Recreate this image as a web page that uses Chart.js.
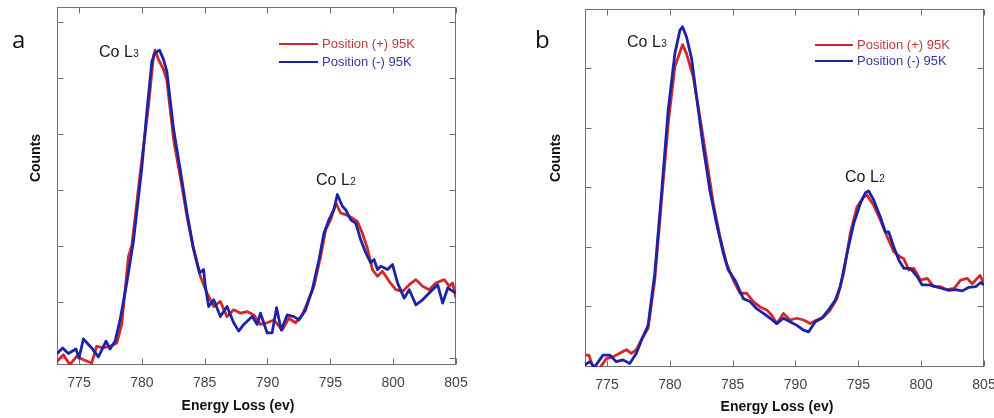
<!DOCTYPE html>
<html>
<head>
<meta charset="utf-8">
<script src="https://cdn.jsdelivr.net/npm/chart.js@4.4.1/dist/chart.umd.min.js"></script>
<style>
  body { margin: 0; background: #fff; width: 994px; height: 418px; overflow: hidden; position: relative; }
  .panel { position: absolute; top: 0; height: 418px; }
  #panelA { left: 0; width: 490px; }
  #panelB { left: 495px; width: 499px; }
</style>
</head>
<body>
<div class="panel" id="panelA"><canvas id="chartA" width="490" height="418"></canvas></div>
<div class="panel" id="panelB"><canvas id="chartB" width="499" height="418"></canvas></div>
<script>
// --- tick labels ---
const energyTicks = [775, 780, 785, 790, 795, 800, 805];
const countTicks = [0, 1, 2, 3, 4, 5, 6];

// --- panel a: Position (+) 95K ---
const aPlusEnergy = [773.27, 773.75, 774.28, 774.81, 775.35, 776.01, 776.41, 776.94, 777.47, 778.01, 778.40, 778.94, 779.20, 779.87, 780.53, 780.93, 781.06, 781.33, 781.73, 781.99, 782.53, 783.19, 783.59, 784.12, 784.65, 785.19, 785.72, 786.25, 786.78, 787.31, 787.85, 788.38, 788.91, 789.44, 789.97, 790.51, 791.17, 791.70, 792.23, 792.77, 793.16, 793.70, 794.23, 794.63, 795.03, 795.43, 795.82, 796.22, 796.76, 797.15, 797.55, 797.95, 798.35, 798.75, 799.15, 799.68, 800.21, 800.74, 801.28, 801.81, 802.34, 802.87, 803.40, 804.07, 804.47, 804.73, 805.0];
const aPlusCounts = [-0.06, 0.06, -0.12, 0.03, -0.03, -0.09, 0.21, 0.18, 0.21, 0.27, 0.60, 1.82, 2.00, 3.30, 4.50, 5.40, 5.50, 5.33, 5.15, 4.97, 3.90, 3.07, 2.53, 1.93, 1.46, 1.16, 0.92, 1.01, 0.74, 0.86, 0.80, 0.83, 0.77, 0.60, 0.63, 0.68, 0.50, 0.71, 0.63, 0.77, 0.98, 1.28, 1.82, 2.29, 2.47, 2.77, 2.59, 2.56, 2.50, 2.44, 2.23, 1.96, 1.58, 1.46, 1.55, 1.37, 1.22, 1.19, 1.31, 1.40, 1.28, 1.22, 1.34, 1.40, 1.28, 1.34, 1.07];

// --- panel a: Position (-) 95K ---
const aMinusEnergy = [773.27, 773.70, 774.15, 774.76, 775.00, 775.35, 776.01, 776.54, 777.15, 777.47, 777.87, 778.27, 778.80, 779.34, 780.00, 780.40, 780.80, 781.06, 781.41, 781.73, 781.99, 782.53, 783.06, 783.59, 784.07, 784.60, 784.92, 785.05, 785.32, 785.72, 786.25, 786.78, 787.31, 787.71, 788.11, 788.78, 789.18, 789.44, 789.97, 790.37, 790.72, 791.09, 791.57, 792.10, 792.50, 793.03, 793.56, 794.10, 794.49, 794.89, 795.29, 795.56, 795.96, 796.22, 796.62, 797.02, 797.42, 797.82, 798.22, 798.48, 798.75, 799.02, 799.55, 799.95, 800.35, 800.88, 801.28, 801.81, 802.34, 802.87, 803.54, 803.94, 804.34, 805.0];
const aMinusCounts = [0.08, 0.18, 0.08, 0.16, 0.00, 0.34, 0.18, 0.02, 0.30, 0.16, 0.30, 0.68, 1.34, 2.10, 3.40, 4.40, 5.30, 5.45, 5.50, 5.33, 5.12, 4.08, 3.36, 2.60, 2.00, 1.52, 1.58, 1.28, 0.92, 1.04, 0.74, 0.92, 0.63, 0.48, 0.60, 0.74, 0.60, 0.80, 0.45, 0.45, 0.90, 0.50, 0.77, 0.74, 0.68, 0.86, 1.22, 1.76, 2.23, 2.47, 2.65, 2.92, 2.71, 2.65, 2.47, 2.41, 2.11, 1.88, 1.70, 1.76, 1.58, 1.64, 1.58, 1.67, 1.34, 1.07, 1.22, 0.95, 1.04, 1.16, 1.31, 0.98, 1.25, 1.16];

// --- panel b: Position (+) 95K ---
const bPlusEnergy = [773.22, 773.56, 773.88, 774.41, 774.95, 775.48, 776.01, 776.54, 776.94, 777.34, 777.87, 778.27, 778.80, 779.34, 779.87, 780.40, 781.01, 781.33, 781.86, 782.39, 782.93, 783.46, 783.99, 784.52, 785.05, 785.59, 786.12, 786.65, 787.18, 787.71, 788.11, 788.51, 789.04, 789.57, 790.11, 790.64, 791.17, 791.70, 792.23, 792.77, 793.30, 793.83, 794.36, 794.89, 795.43, 795.69, 796.22, 796.76, 797.29, 797.82, 798.35, 798.62, 799.02, 799.41, 799.95, 800.48, 801.01, 801.54, 802.07, 802.61, 803.14, 803.67, 804.07, 804.68, 805.0];
const bPlusCounts = [0.18, 0.18, -0.02, -0.04, 0.12, 0.15, 0.21, 0.27, 0.21, 0.27, 0.49, 0.63, 1.44, 2.78, 4.07, 5.03, 5.40, 5.25, 4.86, 4.19, 3.46, 2.73, 2.17, 1.72, 1.44, 1.22, 1.22, 1.08, 0.99, 0.94, 0.85, 0.71, 0.88, 0.77, 0.80, 0.77, 0.71, 0.77, 0.82, 0.94, 1.13, 1.55, 2.23, 2.67, 2.84, 2.87, 2.70, 2.45, 2.17, 1.92, 1.83, 1.80, 1.61, 1.64, 1.44, 1.47, 1.33, 1.33, 1.28, 1.30, 1.44, 1.47, 1.38, 1.52, 1.38];

// --- panel b: Position (-) 95K ---
const bMinusEnergy = [773.22, 773.62, 774.02, 774.68, 775.21, 775.74, 776.28, 776.81, 777.34, 777.74, 778.27, 778.80, 779.34, 779.87, 780.40, 780.80, 781.01, 781.33, 781.73, 782.13, 782.66, 783.19, 783.72, 784.26, 784.65, 785.19, 785.85, 786.38, 786.91, 787.45, 787.98, 788.51, 789.04, 789.57, 790.11, 790.64, 791.04, 791.57, 792.10, 792.63, 793.16, 793.56, 794.10, 794.63, 795.16, 795.56, 795.82, 796.22, 796.76, 797.15, 797.42, 797.82, 798.22, 798.62, 799.15, 799.68, 800.08, 800.61, 801.14, 801.68, 802.21, 802.74, 803.27, 803.80, 804.34, 804.73, 805.0];
const bMinusCounts = [0.01, 0.07, -0.02, 0.18, 0.18, 0.07, 0.10, 0.04, 0.21, 0.43, 0.68, 1.55, 2.90, 4.30, 5.25, 5.64, 5.70, 5.53, 5.17, 4.52, 3.68, 2.95, 2.39, 1.89, 1.61, 1.44, 1.13, 1.08, 0.96, 0.88, 0.80, 0.71, 0.80, 0.74, 0.68, 0.60, 0.57, 0.74, 0.80, 0.94, 1.10, 1.33, 1.89, 2.39, 2.73, 2.91, 2.94, 2.79, 2.50, 2.25, 2.25, 2.00, 1.78, 1.64, 1.64, 1.50, 1.36, 1.36, 1.33, 1.30, 1.27, 1.28, 1.26, 1.32, 1.33, 1.40, 1.36];

const seriesNames = ['Position (+) 95K', 'Position (-) 95K'];

const RED = '#d3282a';
const BLUE = '#1c23a6';
const SANS = '"Liberation Sans", Arial, sans-serif';

function toPoints(xs, ys) {
    return xs.map((x, i) => ({ x: x, y: ys[i] }));
}

// frame + inward ticks (under the lines), texts on top
const panelDecor = {
    id: 'panelDecor',
    beforeDatasetsDraw(chart) {
        const { ctx, chartArea: a, scales: { x, y } } = chart;
        const l = Math.round(a.left) + 0.5, r = Math.round(a.right) - 0.5;
        const t = Math.round(a.top) + 0.5, b = Math.round(a.bottom) - 0.5;
        ctx.save();
        ctx.strokeStyle = '#6f6f6f';
        ctx.lineWidth = 1;
        ctx.strokeRect(l, t, r - l, b - t);
        ctx.beginPath();
        x.ticks.forEach(tk => {
            const px = Math.round(x.getPixelForValue(tk.value)) + 0.5;
            ctx.moveTo(px, b); ctx.lineTo(px, b - 6);
            ctx.moveTo(px, t); ctx.lineTo(px, t + 6);
        });
        y.ticks.forEach(tk => {
            const py = Math.round(y.getPixelForValue(tk.value)) + 0.5;
            ctx.moveTo(l, py); ctx.lineTo(l + 6, py);
            ctx.moveTo(r, py); ctx.lineTo(r - 6, py);
        });
        ctx.stroke();
        ctx.restore();
    },
    afterDraw(chart, args, o) {
        const ctx = chart.ctx;
        ctx.save();
        // panel letter
        ctx.fillStyle = '#111';
        ctx.font = '24px "Open Sans", sans-serif';
        ctx.textBaseline = 'alphabetic';
        ctx.textAlign = 'left';
        ctx.fillText(o.letter, o.letterPos[0], o.letterPos[1]);

        // axis titles
        ctx.font = 'bold 14px ' + SANS;
        ctx.textAlign = 'center';
        ctx.fillText('Energy Loss (ev)', o.xTitlePos[0], o.xTitlePos[1]);
        ctx.save();
        ctx.translate(o.yTitlePos[0], o.yTitlePos[1]);
        ctx.rotate(-Math.PI / 2);
        ctx.textBaseline = 'middle';
        ctx.fillText('Counts', 0, 0);
        ctx.restore();

        // peak labels with subscript
        ctx.textAlign = 'left';
        ctx.fillStyle = '#1a1a1a';
        o.peaks.forEach(p => {
            ctx.font = '16px ' + SANS;
            ctx.fillText(p.text, p.pos[0], p.pos[1]);
            const w = ctx.measureText(p.text).width;
            ctx.font = '10px ' + SANS;
            ctx.fillText(p.sub, p.pos[0] + w + 0.5, p.pos[1]);
        });

        // legend
        const lg = o.legend;
        const lineColors = [RED, BLUE];
        const textColors = ['#c4393b', '#353b9c'];
        ctx.font = '13px ' + SANS;
        ctx.textBaseline = 'middle';
        seriesNames.forEach((name, i) => {
            const ly = lg.ys[i];
            ctx.strokeStyle = lineColors[i];
            ctx.lineWidth = 2.2;
            ctx.beginPath();
            ctx.moveTo(lg.x0, ly);
            ctx.lineTo(lg.x1, ly);
            ctx.stroke();
            ctx.fillStyle = textColors[i];
            ctx.fillText(name, lg.textX, ly + 0.5);
        });
        ctx.restore();
    }
};

function makePanel(canvasId, plus, minus, p) {
    const ctx = document.getElementById(canvasId).getContext('2d');
    return new Chart(ctx, {
        type: 'line',
        data: {
            datasets: [
                { label: seriesNames[1], data: minus, borderColor: BLUE, borderWidth: 2.8, pointRadius: 0, tension: 0, borderJoinStyle: 'round' },
                { label: seriesNames[0], data: plus, borderColor: RED, borderWidth: 2.8, pointRadius: 0, tension: 0, borderJoinStyle: 'round' }
            ]
        },
        options: {
            responsive: false,
            animation: false,
            devicePixelRatio: 1,
            layout: { padding: { top: p.padTop, right: p.padRight, left: 0, bottom: 0 } },
            scales: {
                x: {
                    type: 'linear', min: 773.25, max: 805,
                    grid: { display: false }, border: { display: false },
                    afterBuildTicks: s => { s.ticks = energyTicks.map(v => ({ value: v })); },
                    // fixed height, and the end labels may hang outside the plot box
                    afterFit: s => { s.height = p.xHeight; s.paddingLeft = 0; s.paddingRight = 0; },
                    ticks: { color: '#444', padding: 2, maxRotation: 0, autoSkip: false, font: { family: SANS, size: 14 } }
                },
                y: {
                    type: 'linear', min: p.yMin, max: p.yMax,
                    grid: { display: false }, border: { display: false },
                    afterBuildTicks: s => { s.ticks = countTicks.map(v => ({ value: v })); },
                    afterFit: s => { s.width = p.yWidth; s.paddingTop = 0; s.paddingBottom = 0; },
                    ticks: { display: false }
                }
            },
            plugins: {
                legend: { display: false },
                tooltip: { enabled: false },
                panelDecor: p.decor
            }
        },
        plugins: [panelDecor]
    });
}

makePanel('chartA', toPoints(aPlusEnergy, aPlusCounts), toPoints(aMinusEnergy, aMinusCounts), {
    padTop: 7, padRight: 34, xHeight: 53, yWidth: 57, yMin: -0.125, yMax: 6.27,
    decor: {
        letter: 'a', letterPos: [12, 48],
        xTitlePos: [238, 410], yTitlePos: [36, 158],
        peaks: [{ text: 'Co L', sub: '3', pos: [99, 57] }, { text: 'Co L', sub: '2', pos: [316, 185] }],
        legend: { x0: 279, x1: 318, textX: 322, ys: [44, 62] }
    }
});

makePanel('chartB', toPoints(bPlusEnergy, bPlusCounts), toPoints(bMinusEnergy, bMinusCounts), {
    padTop: 9, padRight: 10, xHeight: 51, yWidth: 90, yMin: -0.02, yMax: 6,
    decor: {
        letter: 'b', letterPos: [40, 48],
        xTitlePos: [282, 411], yTitlePos: [61, 158],
        peaks: [{ text: 'Co L', sub: '3', pos: [132, 47] }, { text: 'Co L', sub: '2', pos: [350, 182] }],
        legend: { x0: 320, x1: 358, textX: 362, ys: [45, 61] }
    }
});
</script>
</body>
</html>
